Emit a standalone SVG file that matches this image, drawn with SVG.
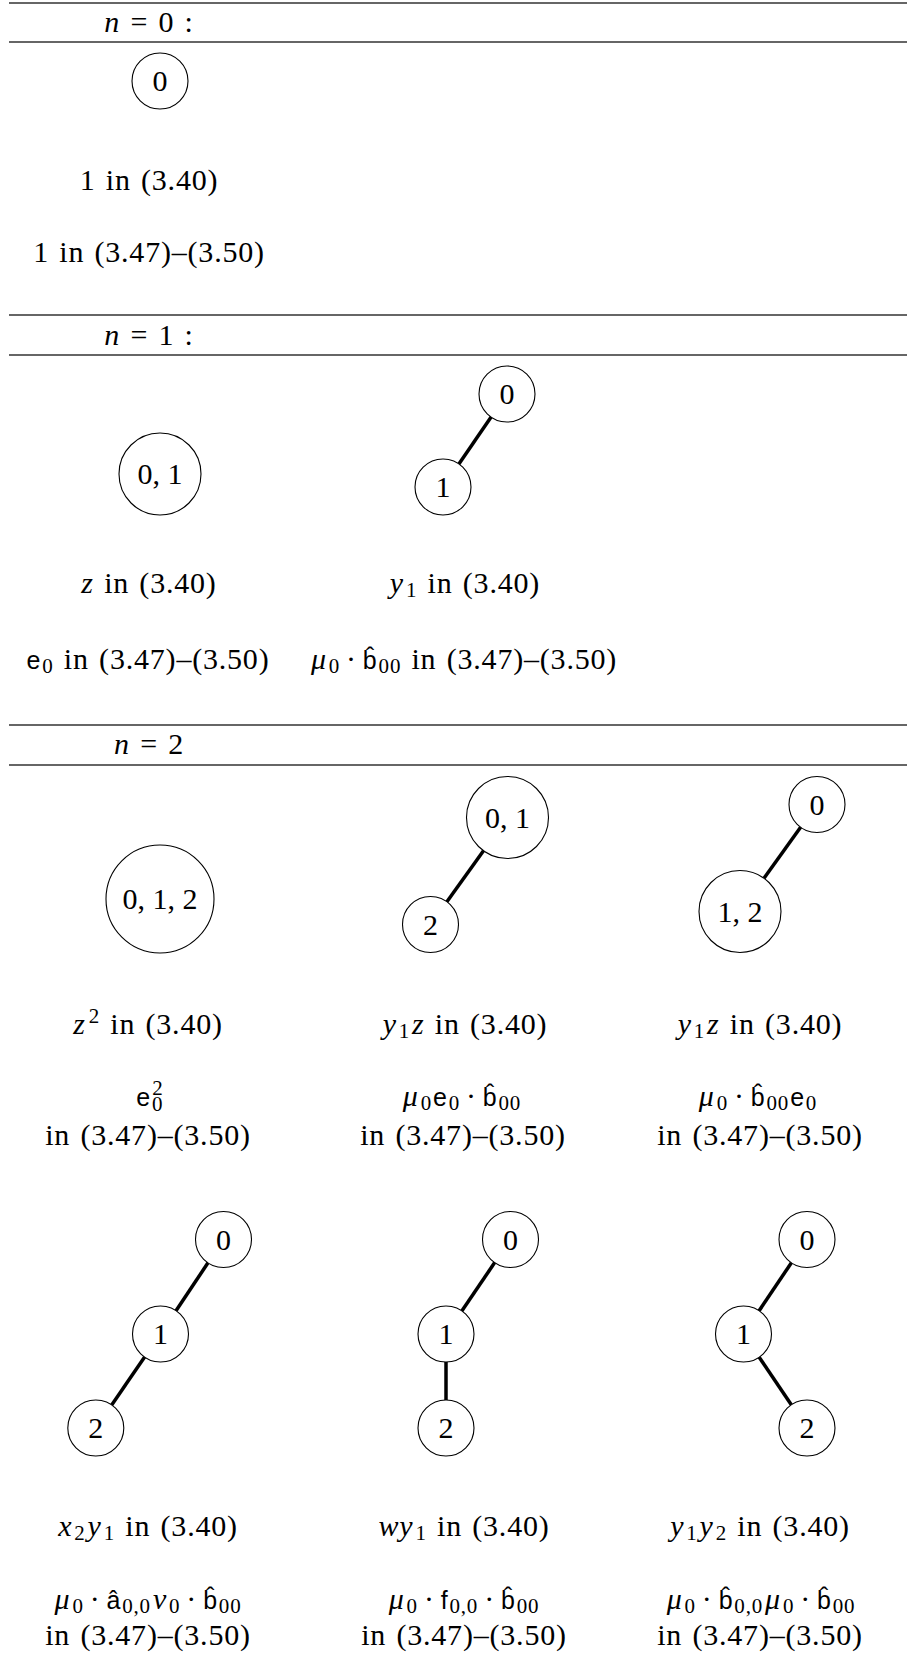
<svg xmlns="http://www.w3.org/2000/svg" width="907" height="1658" viewBox="0 0 907 1658">
<style>
.bg{fill:#fff}
.rule{stroke:#333;stroke-width:1.3;fill:none}
.node{fill:#fff;stroke:#000;stroke-width:1.1}
.edge{stroke:#000;stroke-width:3.5;stroke-linecap:butt;fill:none}
.t{font-family:"Liberation Serif","Times New Roman",serif;font-size:30px;fill:#000;text-anchor:middle;letter-spacing:0.8px;word-spacing:2px}
.nl{font-family:"Liberation Serif","Times New Roman",serif;font-size:30px;fill:#000;text-anchor:middle}
.i{font-style:italic}
.sf{font-family:"Liberation Sans",Arial,sans-serif;font-size:25px}
.s{font-size:21px}
</style>
<rect class="bg" x="0" y="0" width="907" height="1658"/>

<g id="rules">
<line class="rule" x1="9" y1="3" x2="907" y2="3"/>
<line class="rule" x1="9" y1="42" x2="907" y2="42"/>
<line class="rule" x1="9" y1="315" x2="907" y2="315"/>
<line class="rule" x1="9" y1="355" x2="907" y2="355"/>
<line class="rule" x1="9" y1="725" x2="907" y2="725"/>
<line class="rule" x1="9" y1="765" x2="907" y2="765"/>
</g>

<g id="headers">
<text class="t" x="149" y="32"><tspan class="i">n</tspan> = 0 :</text>
<text class="t" x="149" y="345"><tspan class="i">n</tspan> = 1 :</text>
<text class="t" x="149" y="754"><tspan class="i">n</tspan> = 2</text>
</g>

<g id="connectors">
<line class="edge" x1="491.1" y1="417.1" x2="458.9" y2="463.9"/>
<line class="edge" x1="483.5" y1="850.8" x2="446.9" y2="901.8"/>
<line class="edge" x1="800.6" y1="827.2" x2="764.0" y2="878.2"/>
<line class="edge" x1="208.0" y1="1262.8" x2="176.0" y2="1310.7"/>
<line class="edge" x1="144.6" y1="1357.1" x2="111.7" y2="1404.9"/>
<line class="edge" x1="494.7" y1="1262.6" x2="461.8" y2="1310.9"/>
<line class="edge" x1="446" y1="1362" x2="446" y2="1400"/>
<line class="edge" x1="791.4" y1="1262.7" x2="759.1" y2="1310.8"/>
<line class="edge" x1="759.2" y1="1357.2" x2="791.3" y2="1404.8"/>
</g>

<!-- n = 0 -->
<g id="n0-node0"><circle class="node" cx="160" cy="81" r="28"/><text class="nl" x="160" y="91">0</text></g>
<g id="n0-labels">
<text class="t" x="149" y="190">1 in (3.40)</text>
<text class="t" x="149" y="262">1 in (3.47)–(3.50)</text>
</g>

<!-- n = 1 -->
<g id="n1-a-node01"><circle class="node" cx="160" cy="474" r="41"/><text class="nl" x="160" y="484">0, 1</text></g>
<g id="n1-b-node0"><circle class="node" cx="507" cy="394" r="28"/><text class="nl" x="507" y="404">0</text></g>
<g id="n1-b-node1"><circle class="node" cx="443" cy="487" r="28"/><text class="nl" x="443" y="497">1</text></g>
<g id="n1-labels">
<text class="t" x="149" y="593"><tspan class="i">z</tspan> in (3.40)</text>
<text class="t" x="465" y="593"><tspan class="i">y</tspan><tspan class="s" dx="2" dy="4">1</tspan><tspan dy="-4"> in (3.40)</tspan></text>
<text class="t" x="148" y="669"><tspan class="sf">e</tspan><tspan class="s" dx="1" dy="4">0</tspan><tspan dy="-4"> in (3.47)–(3.50)</tspan></text>
<text class="t" x="464" y="669"><tspan class="i">μ</tspan><tspan class="s" dx="2" dy="4">0</tspan><tspan dx="6" dy="-4">·</tspan><tspan class="sf" dx="6">b̂</tspan><tspan class="s" dx="1" dy="4">00</tspan><tspan dy="-4"> in (3.47)–(3.50)</tspan></text>
</g>

<!-- n = 2, first row -->
<g id="n2-a-node012"><circle class="node" cx="160" cy="899" r="54"/><text class="nl" x="160" y="909">0, 1, 2</text></g>
<g id="n2-b-node01"><circle class="node" cx="507.5" cy="817.5" r="41"/><text class="nl" x="507.5" y="827.5">0, 1</text></g>
<g id="n2-b-node2"><circle class="node" cx="430.5" cy="924.5" r="28"/><text class="nl" x="430.5" y="934.5">2</text></g>
<g id="n2-c-node0"><circle class="node" cx="817" cy="804.5" r="28"/><text class="nl" x="817" y="814.5">0</text></g>
<g id="n2-c-node12"><circle class="node" cx="740" cy="911.5" r="41"/><text class="nl" x="740" y="921.5">1, 2</text></g>
<g id="n2-row1-labels">
<text class="t" x="148" y="1034"><tspan class="i">z</tspan><tspan class="s" dx="3" dy="-11">2</tspan><tspan dy="11"> in (3.40)</tspan></text>
<text class="t" x="465" y="1034"><tspan class="i">y</tspan><tspan class="s" dx="2" dy="4">1</tspan><tspan class="i" dx="2" dy="-4">z</tspan> in (3.40)</text>
<text class="t" x="760" y="1034"><tspan class="i">y</tspan><tspan class="s" dx="2" dy="4">1</tspan><tspan class="i" dx="2" dy="-4">z</tspan> in (3.40)</text>
<text class="t" x="150" y="1106"><tspan class="sf">e</tspan><tspan class="s" dx="1" dy="5">0</tspan><tspan class="s" dx="-11" dy="-16">2</tspan></text>
<text class="t" x="462" y="1106"><tspan class="i">μ</tspan><tspan class="s" dx="2" dy="4">0</tspan><tspan class="sf" dx="1" dy="-4">e</tspan><tspan class="s" dx="1" dy="4">0</tspan><tspan dx="6" dy="-4">·</tspan><tspan class="sf" dx="6">b̂</tspan><tspan class="s" dx="1" dy="4">00</tspan></text>
<text class="t" x="758" y="1106"><tspan class="i">μ</tspan><tspan class="s" dx="2" dy="4">0</tspan><tspan dx="6" dy="-4">·</tspan><tspan class="sf" dx="6">b̂</tspan><tspan class="s" dx="1" dy="4">00</tspan><tspan class="sf" dx="1" dy="-4">e</tspan><tspan class="s" dx="1" dy="4">0</tspan></text>
<text class="t" x="148" y="1145">in (3.47)–(3.50)</text>
<text class="t" x="463" y="1145">in (3.47)–(3.50)</text>
<text class="t" x="760" y="1145">in (3.47)–(3.50)</text>
</g>

<!-- n = 2, second row -->
<g id="n2-d-node0"><circle class="node" cx="223.5" cy="1239.5" r="28"/><text class="nl" x="223.5" y="1249.5">0</text></g>
<g id="n2-d-node1"><circle class="node" cx="160.5" cy="1334" r="28"/><text class="nl" x="160.5" y="1344">1</text></g>
<g id="n2-d-node2"><circle class="node" cx="95.8" cy="1428" r="28"/><text class="nl" x="95.8" y="1438">2</text></g>
<g id="n2-e-node0"><circle class="node" cx="510.5" cy="1239.5" r="28"/><text class="nl" x="510.5" y="1249.5">0</text></g>
<g id="n2-e-node1"><circle class="node" cx="446" cy="1334" r="28"/><text class="nl" x="446" y="1344">1</text></g>
<g id="n2-e-node2"><circle class="node" cx="446" cy="1428" r="28"/><text class="nl" x="446" y="1438">2</text></g>
<g id="n2-f-node0"><circle class="node" cx="807" cy="1239.5" r="28"/><text class="nl" x="807" y="1249.5">0</text></g>
<g id="n2-f-node1"><circle class="node" cx="743.5" cy="1334" r="28"/><text class="nl" x="743.5" y="1344">1</text></g>
<g id="n2-f-node2"><circle class="node" cx="807" cy="1428" r="28"/><text class="nl" x="807" y="1438">2</text></g>
<g id="n2-row2-labels">
<text class="t" x="148" y="1536"><tspan class="i">x</tspan><tspan class="s" dx="2" dy="4">2</tspan><tspan class="i" dx="2" dy="-4">y</tspan><tspan class="s" dx="2" dy="4">1</tspan><tspan dy="-4"> in (3.40)</tspan></text>
<text class="t" x="464" y="1536"><tspan class="i">wy</tspan><tspan class="s" dx="2" dy="4">1</tspan><tspan dy="-4"> in (3.40)</tspan></text>
<text class="t" x="760" y="1536"><tspan class="i">y</tspan><tspan class="s" dx="2" dy="4">1</tspan><tspan class="i" dx="2" dy="-4">y</tspan><tspan class="s" dx="2" dy="4">2</tspan><tspan dy="-4"> in (3.40)</tspan></text>
<text class="t" x="148" y="1609"><tspan class="i">μ</tspan><tspan class="s" dx="2" dy="4">0</tspan><tspan dx="6" dy="-4">·</tspan><tspan class="sf" dx="6">â</tspan><tspan class="s" dx="1" dy="4">0,0</tspan><tspan class="i" dx="2" dy="-4">ν</tspan><tspan class="s" dx="2" dy="4">0</tspan><tspan dx="6" dy="-4">·</tspan><tspan class="sf" dx="6">b̂</tspan><tspan class="s" dx="1" dy="4">00</tspan></text>
<text class="t" x="464" y="1609"><tspan class="i">μ</tspan><tspan class="s" dx="2" dy="4">0</tspan><tspan dx="6" dy="-4">·</tspan><tspan class="sf" dx="6">f</tspan><tspan class="s" dx="1" dy="4">0,0</tspan><tspan dx="6" dy="-4">·</tspan><tspan class="sf" dx="6">b̂</tspan><tspan class="s" dx="1" dy="4">00</tspan></text>
<text class="t" x="761" y="1609"><tspan class="i">μ</tspan><tspan class="s" dx="2" dy="4">0</tspan><tspan dx="6" dy="-4">·</tspan><tspan class="sf" dx="6">b̂</tspan><tspan class="s" dx="1" dy="4">0,0</tspan><tspan class="i" dx="2" dy="-4">μ</tspan><tspan class="s" dx="2" dy="4">0</tspan><tspan dx="6" dy="-4">·</tspan><tspan class="sf" dx="6">b̂</tspan><tspan class="s" dx="1" dy="4">00</tspan></text>
<text class="t" x="148" y="1645">in (3.47)–(3.50)</text>
<text class="t" x="464" y="1645">in (3.47)–(3.50)</text>
<text class="t" x="760" y="1645">in (3.47)–(3.50)</text>
</g>
</svg>
